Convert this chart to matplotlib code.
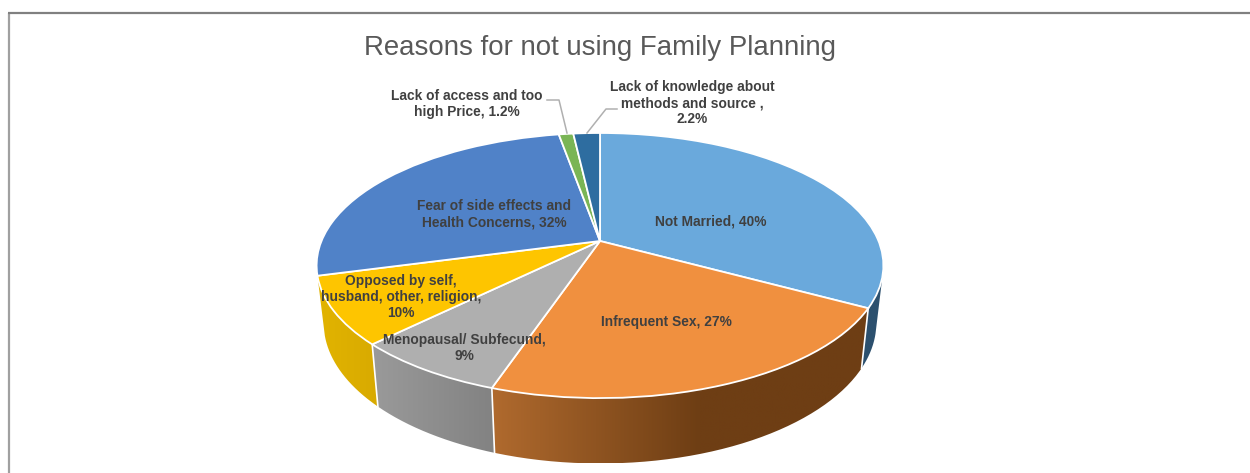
import matplotlib
matplotlib.use("Agg")
import matplotlib.pyplot as plt
import numpy as np
from matplotlib.colors import to_rgb
from matplotlib.path import Path
from matplotlib.patches import PathPatch
from matplotlib.transforms import Transform

plt.rcParams['font.family'] = ['Liberation Sans', 'DejaVu Sans']

# Data
labels = ["Not Married", "Infrequent Sex", "Menopausal/ Subfecund",
          "Opposed by self, husband, other, religion",
          "Fear of side effects and Health Concerns",
          "Lack of access and too high Price",
          "Lack of knowledge about methods and source"]
values = [40, 27, 9, 10, 32, 1.2, 2.2]
value_text = ["40%", "27%", "9%", "10%", "32%", "1.2%", "2.2%"]
colors = ["#6aa9dc", "#f0903f", "#afafaf", "#fec500", "#5082c8", "#7ab555", "#2e6da0"]

# left and right colour of the side wall of every slice
wall_left = ["#2c506e", "#b06a2e", "#9a9a9a", "#e2b400", "#2c506e", "#2c506e", "#2c506e"]
wall_right = ["#2c506e", "#6e3e14", "#828282", "#d8aa00", "#2c506e", "#2c506e", "#2c506e"]
# share of the wall width over which the colour changes
wall_fade = [1, 0.55, 1, 1, 1, 1, 1]

W, H = 1250, 473
CX, CY = 600, 241      # pixel of the pie apex
A, B, K = 278.5, 128, 0.185   # perspective of the top face
DROP, SX, SY = 56, 0.975, 1.06   # bottom face relative to top face
WALL_FROM, WALL_TO = np.radians(105), np.radians(255)  # visible part of the rim


def top_face(xy):
    u, v = xy[:, 0], xy[:, 1]
    d = 1 + K * v
    return np.column_stack([CX + A * u / d, CY - B * v / d])


def bottom_face(xy):
    p = top_face(xy)
    return np.column_stack([CX + SX * (p[:, 0] - CX), CY + SY * (p[:, 1] - CY) + DROP])


class Tilt(Transform):
    input_dims = 2
    output_dims = 2

    def transform_non_affine(self, values):
        return top_face(np.asarray(values))


def arc(t0, t1, n=80):
    t = np.linspace(t0, t1, n)
    return np.column_stack([np.sin(t), np.cos(t)])


fig = plt.figure(figsize=(W / 100, H / 100), dpi=100)
ax = fig.add_axes([0, 0, 1, 1])

# top face goes through ax.pie, clockwise from 12 o'clock
wedges, _ = ax.pie(values, colors=colors, startangle=90, counterclock=False,
                   wedgeprops=dict(edgecolor="white", linewidth=1.3))
ax.set_aspect("auto")
ax.axis("off")
tilt = Tilt() + ax.transData
for w in wedges:
    w.set_transform(tilt)
    w.set_zorder(5)

# side walls, front part only
edges = np.cumsum([0] + values) / sum(values) * 2 * np.pi
for i in range(len(values)):
    t0, t1 = edges[i], edges[i + 1]
    if t1 <= WALL_FROM or t0 >= WALL_TO - 0.01:
        continue
    a = arc(max(t0, WALL_FROM), min(t1, WALL_TO))
    up, low = top_face(a), bottom_face(a)
    poly = np.vstack([up, low[::-1], up[:1]])
    x0, x1 = poly[:, 0].min(), poly[:, 0].max()
    y0, y1 = poly[:, 1].min(), poly[:, 1].max()
    # gradient runs along x
    c0, c1 = np.array(to_rgb(wall_left[i])), np.array(to_rgb(wall_right[i]))
    px = np.linspace(0, 1, 256)
    frac = np.clip(px / wall_fade[i], 0, 1)[:, None]
    grad = (c0 * (1 - frac) + c1 * frac)[None, :, :]
    im = ax.imshow(grad, extent=(x0, x1, y1, y0), aspect="auto", zorder=2)
    clip = PathPatch(Path(poly), transform=ax.transData, facecolor="none", edgecolor="none")
    ax.add_patch(clip)
    im.set_clip_path(clip)
    # white seam between two walls
    if t0 >= WALL_FROM:
        ax.plot([up[0, 0], low[0, 0]], [up[0, 1], low[0, 1]], color="white", lw=1.2, zorder=3)
ax.set_xlim(0, W)
ax.set_ylim(H, 0)

# chart frame, only left and top are in the crop
ax.plot([9, 9], [473, 13], color="#a0a0a0", lw=1.6, zorder=1, solid_capstyle="butt")
ax.plot([8, 1250], [13.5, 13.5], color="#808080", lw=1.6, zorder=1, solid_capstyle="butt")

ax.text(600, 48, "Reasons for not using Family Planning", ha="center", va="center",
        fontsize=19.9, color="#595959")

txt = dict(ha="center", va="center", fontsize=9.9, fontweight="bold", color="#404040",
           linespacing=1.2, zorder=6)
ax.text(711, 221, f"{labels[0]}, {value_text[0]}", **txt)
ax.text(666, 322, f"{labels[1]}, {value_text[1]}", **txt)
ax.text(464, 348, f"{labels[2]},\n{value_text[2]}", **txt)
ax.text(401, 297, f"Opposed by self,\nhusband, other, religion,\n{value_text[3]}", **txt)
ax.text(494, 214.5, f"Fear of side effects and\nHealth Concerns, {value_text[4]}", **txt)
ax.text(467, 104, f"Lack of access and too\nhigh Price, {value_text[5]}", **txt)
ax.text(692, 103, f"Lack of knowledge about\nmethods and source ,\n{value_text[6]}", **txt)

# leader lines
lead = dict(color="#b0b0b0", lw=1.1, zorder=6)
ax.plot([547, 559, 567], [100, 100, 133], **lead)
ax.plot([617, 606, 587], [109, 109, 133], **lead)

fig.savefig("out.png", dpi=100, facecolor="white")
